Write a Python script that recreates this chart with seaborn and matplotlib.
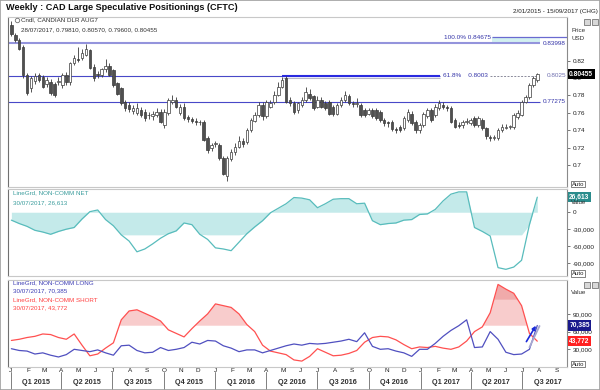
import numpy as np
import pandas as pd
import matplotlib
matplotlib.use("Agg")
import matplotlib.pyplot as plt
import matplotlib.dates as mdates
import matplotlib.transforms as mtransforms
from matplotlib.patches import Rectangle
import seaborn as sns

# ---- data ----
candle_dates = pd.date_range("2015-01-02", "2017-07-28", freq="7D")   # weekly candles
opens = [0.861, 0.850, 0.844, 0.836, 0.804, 0.788, 0.797, 0.803, 0.801, 0.793,
         0.796, 0.793, 0.795, 0.792, 0.804, 0.795, 0.817, 0.822, 0.823, 0.827,
         0.832, 0.813, 0.805, 0.803, 0.810, 0.814, 0.809, 0.794, 0.788, 0.773,
         0.769, 0.762, 0.760, 0.763, 0.761, 0.757, 0.756, 0.758, 0.761, 0.746,
         0.760, 0.773, 0.775, 0.760, 0.767, 0.755, 0.753, 0.751, 0.750, 0.750,
         0.731, 0.719, 0.724, 0.723, 0.708, 0.687, 0.707, 0.715, 0.721, 0.727,
         0.726, 0.740, 0.751, 0.757, 0.769, 0.756, 0.767, 0.773, 0.781, 0.790,
         0.800, 0.775, 0.771, 0.763, 0.769, 0.775, 0.782, 0.779, 0.767, 0.775,
         0.771, 0.772, 0.767, 0.759, 0.769, 0.775, 0.779, 0.771, 0.770, 0.769,
         0.763, 0.759, 0.763, 0.763, 0.761, 0.752, 0.749, 0.750, 0.741, 0.744,
         0.742, 0.752, 0.759, 0.750, 0.740, 0.746, 0.756, 0.763, 0.757, 0.765,
         0.769, 0.767, 0.766, 0.752, 0.746, 0.746, 0.750, 0.748, 0.754, 0.746,
         0.752, 0.742, 0.732, 0.731, 0.731, 0.740, 0.743, 0.744, 0.744, 0.755,
         0.758, 0.773, 0.778, 0.792, 0.79810]
highs = [0.866, 0.852, 0.846, 0.838, 0.806, 0.802, 0.806, 0.806, 0.804, 0.801,
         0.799, 0.795, 0.801, 0.806, 0.807, 0.819, 0.826, 0.836, 0.834, 0.839,
         0.834, 0.816, 0.808, 0.812, 0.822, 0.817, 0.811, 0.796, 0.790, 0.775,
         0.773, 0.769, 0.771, 0.767, 0.764, 0.761, 0.762, 0.766, 0.764, 0.764,
         0.777, 0.781, 0.778, 0.770, 0.771, 0.757, 0.755, 0.754, 0.752, 0.752,
         0.733, 0.725, 0.727, 0.725, 0.710, 0.710, 0.718, 0.725, 0.733, 0.731,
         0.742, 0.754, 0.761, 0.773, 0.773, 0.775, 0.775, 0.785, 0.795, 0.801,
         0.802, 0.778, 0.774, 0.773, 0.778, 0.790, 0.787, 0.781, 0.779, 0.778,
         0.774, 0.775, 0.769, 0.771, 0.778, 0.785, 0.782, 0.774, 0.777, 0.771,
         0.766, 0.766, 0.765, 0.765, 0.763, 0.754, 0.751, 0.752, 0.744, 0.746,
         0.756, 0.764, 0.762, 0.752, 0.748, 0.761, 0.766, 0.765, 0.770, 0.775,
         0.772, 0.769, 0.768, 0.754, 0.749, 0.752, 0.754, 0.754, 0.756, 0.756,
         0.754, 0.744, 0.734, 0.735, 0.742, 0.747, 0.747, 0.746, 0.760, 0.763,
         0.775, 0.780, 0.794, 0.802, 0.80570]
lows = [0.848, 0.842, 0.832, 0.800, 0.781, 0.784, 0.793, 0.795, 0.788, 0.790,
        0.781, 0.778, 0.792, 0.789, 0.792, 0.792, 0.815, 0.818, 0.821, 0.825,
        0.810, 0.797, 0.800, 0.801, 0.807, 0.802, 0.790, 0.780, 0.769, 0.762,
        0.761, 0.759, 0.758, 0.755, 0.751, 0.753, 0.752, 0.755, 0.748, 0.743,
        0.757, 0.770, 0.765, 0.758, 0.752, 0.750, 0.748, 0.746, 0.746, 0.727,
        0.714, 0.716, 0.721, 0.706, 0.688, 0.682, 0.705, 0.712, 0.719, 0.721,
        0.724, 0.738, 0.749, 0.755, 0.752, 0.754, 0.765, 0.770, 0.779, 0.788,
        0.771, 0.768, 0.759, 0.760, 0.767, 0.773, 0.775, 0.763, 0.765, 0.765,
        0.763, 0.757, 0.756, 0.757, 0.767, 0.773, 0.769, 0.767, 0.767, 0.755,
        0.755, 0.757, 0.754, 0.752, 0.750, 0.745, 0.744, 0.739, 0.737, 0.738,
        0.740, 0.750, 0.746, 0.737, 0.737, 0.744, 0.754, 0.750, 0.755, 0.763,
        0.764, 0.762, 0.748, 0.742, 0.742, 0.743, 0.747, 0.746, 0.744, 0.744,
        0.740, 0.730, 0.727, 0.729, 0.729, 0.738, 0.741, 0.741, 0.741, 0.753,
        0.756, 0.771, 0.776, 0.790, 0.79600]
closes = [0.851, 0.844, 0.834, 0.804, 0.783, 0.800, 0.802, 0.798, 0.790, 0.798,
          0.783, 0.781, 0.797, 0.804, 0.795, 0.817, 0.823, 0.821, 0.829, 0.834,
          0.812, 0.800, 0.803, 0.810, 0.814, 0.804, 0.792, 0.782, 0.771, 0.765,
          0.764, 0.765, 0.766, 0.758, 0.754, 0.757, 0.759, 0.761, 0.750, 0.761,
          0.775, 0.775, 0.767, 0.767, 0.754, 0.753, 0.751, 0.750, 0.749, 0.729,
          0.717, 0.723, 0.725, 0.708, 0.690, 0.708, 0.715, 0.721, 0.727, 0.724,
          0.740, 0.752, 0.757, 0.769, 0.756, 0.773, 0.771, 0.781, 0.790, 0.798,
          0.773, 0.771, 0.761, 0.771, 0.775, 0.784, 0.777, 0.765, 0.775, 0.767,
          0.765, 0.759, 0.759, 0.769, 0.775, 0.781, 0.771, 0.770, 0.771, 0.758,
          0.758, 0.763, 0.756, 0.754, 0.752, 0.748, 0.748, 0.741, 0.740, 0.740,
          0.754, 0.761, 0.748, 0.740, 0.746, 0.759, 0.763, 0.752, 0.767, 0.771,
          0.767, 0.765, 0.750, 0.744, 0.745, 0.750, 0.751, 0.752, 0.746, 0.754,
          0.742, 0.733, 0.731, 0.732, 0.740, 0.744, 0.744, 0.744, 0.757, 0.760,
          0.773, 0.778, 0.792, 0.800, 0.80455]

# CFTC positions, thousands of contracts, fortnightly readings
cot_dates = pd.date_range("2015-01-02", "2017-07-28", freq="14D")
noncomm_net = [-14, -20, -25, -32, -35, -39, -34, -30, -27, -12,
               1, 4, -13, -24, -40, -51, -70, -65, -56, -46,
               -38, -33, -19, -22, -39, -48, -63, -65, -68, -53,
               -38, -26, -15, -1, 7, 15, 26, 25, 22, 8,
               15, 23, 24, 24, 15, 16, -15, -22, -20, -19,
               -14, -13, -4, -3, 5, 20, 32, 36, 36, -27,
               -34, -42, -98, -101, -97, -85, -22, 26.613]
noncomm_long = [31, 28, 27, 22, 24, 20, 17, 21, 30, 28,
                26, 29, 24, 20, 36, 37, 28, 24, 25, 33,
                28, 30, 33, 42, 39, 45, 44, 36, 32, 26,
                29, 29, 24, 28, 32, 36, 39, 37, 40, 39,
                40, 42, 44, 47, 43, 58, 35, 30, 31, 27,
                24, 18, 30, 30, 40, 52, 62, 70, 80, 33,
                34, 60, 47, 25, 21, 22, 30, 70.385]
noncomm_short = [45, 47, 50, 52, 56, 55, 50, 47, 56, 37,
                 19, 22, 32, 41, 80, 95, 97, 91, 85, 78,
                 63, 57, 51, 65, 78, 90, 107, 104, 101, 90,
                 72, 60, 37, 27, 24, 21, 12, 10, 18, 31,
                 25, 19, 20, 23, 28, 42, 50, 52, 51, 46,
                 38, 31, 34, 33, 35, 32, 30, 34, 44, 60,
                 68, 92, 140, 132, 125, 104, 57, 43.772]

price_ticks = [0.70, 0.72, 0.74, 0.76, 0.78, 0.80, 0.82]
net_ticks = [0, -30, -60, -90]
pos_ticks = [30, 60, 90]
quarter_labels = ["Q1 2015", "Q2 2015", "Q3 2015", "Q4 2015", "Q1 2016", "Q2 2016",
                  "Q3 2016", "Q4 2016", "Q1 2017", "Q2 2017", "Q3 2017"]

# retracement levels drawn on the price panel
fib_100 = 0.84675
fib_top = 0.83998
fib_618 = 0.8003
last_level = 0.8025
support = 0.77275

# ---- figure ----
sns.set_theme(style="white")
plt.rcParams['font.family'] = ['Liberation Sans', 'DejaVu Sans']

W, H = 600, 390
fig = plt.figure(figsize=(6, 3.9), dpi=100)
L, R = 8, 567


def fx(x):
    return x / W


def fy(y):
    return 1 - y / H


def add_panel(top, bottom):
    return fig.add_axes([fx(L), fy(bottom), (R - L) / W, (bottom - top) / H])


ax1 = add_panel(17, 187)
ax2 = add_panel(189, 276)
ax3 = add_panel(280, 367)

d = lambda s: mdates.date2num(pd.Timestamp(s))
x_lo, x_hi = d("2014-12-27"), d("2017-09-19")

# candles
xc = mdates.date2num(candle_dates)
o, h, l, c = map(np.array, (opens, highs, lows, closes))
up = c >= o
body_lo = np.minimum(o, c)
body_h = np.maximum(np.abs(c - o), 0.0004)
ax1.vlines(xc, l, h, color='#3a3a3a', lw=0.6, zorder=3)
ax1.bar(xc[up], body_h[up], bottom=body_lo[up], width=4.5, color='white',
        edgecolor='#3a3a3a', linewidth=0.5, zorder=4)
ax1.bar(xc[~up], body_h[~up], bottom=body_lo[~up], width=4.5, color='#505050',
        edgecolor='#3a3a3a', linewidth=0.5, zorder=4)

# level lines
lc = '#4848c8'
ax1.fill_between([d("2017-05-09"), d("2017-08-02")], fib_top, fib_100, color='#d2f0f0', lw=0, zorder=1)
ax1.hlines(fib_100, d("2017-05-09"), x_hi, color='#6a6ad0', lw=0.9, zorder=2)
ax1.hlines(fib_top, x_lo, d("2017-08-02"), color='#9494dc', lw=1.5, zorder=2)
ax1.hlines(last_level, x_lo, d("2017-02-05"), color=lc, lw=0.8, zorder=2)
ax1.hlines(last_level + 0.0003, d("2016-04-29"), d("2017-02-05"), color='#2a2ae0', lw=1.5, zorder=2)
ax1.hlines(fib_618, d("2016-05-01"), d("2017-02-05"), color='#b8b8c8', lw=0.8, zorder=2)
ax1.hlines(last_level, d("2017-05-05"), d("2017-07-30"), color='#8a8a9a', lw=0.7, ls=(0, (2, 1.5)), zorder=2)
ax1.hlines(support, x_lo, d("2017-08-02"), color=lc, lw=0.8, zorder=2)

tfs = 4.6
tc = '#3434a8'
ax1.text(d("2017-05-07"), fib_100, "100.0% 0.84675", ha='right', va='center', fontsize=tfs, color=tc)
ax1.text(d("2017-08-07"), fib_top, "0.83998", ha='left', va='center', fontsize=tfs, color=tc)
ax1.text(d("2017-02-10"), last_level, "61.8%    0.8003", ha='left', va='center', fontsize=tfs, color=tc)
ax1.text(d("2017-08-14"), last_level, "0.8025", ha='left', va='center', fontsize=tfs, color='#7070b0')
ax1.text(d("2017-08-07"), support, "0.77275", ha='left', va='center', fontsize=tfs, color=tc)
ax1.set_ylim(0.6746, 0.8703)

# net positions
xl = mdates.date2num(cot_dates)
net = np.array(noncomm_net)
ax2.fill_between(xl, np.maximum(net, -40), 0, color='#c4eaea', lw=0, zorder=1)
sns.lineplot(x=xl, y=net, ax=ax2, color='#58bcbc', lw=0.9, zorder=3)
ax2.set_ylim(-112.8, 41.1)

# long / short
lng = np.array(noncomm_long)
sht = np.array(noncomm_short)
ax3.fill_between(xl, sht, 70, where=sht > 70, interpolate=True, color='#f8cccc', lw=0, zorder=1)
ax3.fill_between(xl, sht, 115, where=sht > 115, interpolate=True, color='#f0aaaa', lw=0, zorder=1)
sns.lineplot(x=xl, y=sht, ax=ax3, color='#ff5050', lw=0.9, zorder=3)
sns.lineplot(x=xl, y=lng, ax=ax3, color='#5050c0', lw=0.9, zorder=4)
ax3.plot([d("2017-07-14"), d("2017-08-01")], [33.4, 69.5], color='#a8a8d0', lw=1.3, zorder=5)
ax3.annotate("", xy=(d("2017-07-28"), 74), xytext=(d("2017-07-06"), 39),
             arrowprops=dict(arrowstyle='-|>', color='#1a2ad8', lw=1.2, mutation_scale=5), zorder=6)
ax3.set_ylim(0, 147.5)

# axes styling
for ax in (ax1, ax2, ax3):
    ax.set_xlim(x_lo, x_hi)
    ax.set_xlabel("")
    ax.set_ylabel("")
    ax.grid(False)
    ax.yaxis.tick_right()
    ax.tick_params(axis='y', direction='out', length=2.5, width=0.6, color='#606060',
                   pad=1.5, labelsize=4.6, labelcolor='#202020')
    ax.spines['left'].set_color('#707070')
    ax.spines['right'].set_color('#8a8a8a')
    ax.spines['top'].set_color('#c8c8c8')
    ax.spines['bottom'].set_color('#c8c8c8')
    for s in ax.spines.values():
        s.set_linewidth(0.8)

ax1.set_yticks(price_ticks)
ax1.set_yticklabels([f"{v:g}" for v in price_ticks])
ax2.set_yticks(net_ticks)
ax2.set_yticklabels([f"{v * 1000:,.0f}" for v in net_ticks])
ax3.set_yticks(pos_ticks)
ax3.set_yticklabels([f"{v * 1000:,.0f}" for v in pos_ticks])
ax1.set_xticks([])
ax2.set_xticks([])

months = pd.date_range("2015-01-01", "2017-09-01", freq="MS")
ax3.set_xticks(mdates.date2num(months))
ax3.set_xticklabels([m.strftime("%b")[0] for m in months])
ax3.tick_params(axis='x', length=0, pad=1, labelsize=4.6, labelcolor='#202020')

# quarter row
qstarts = pd.date_range("2015-01-01", "2017-07-01", freq="QS")
bt = mtransforms.blended_transform_factory(ax3.transData, fig.transFigure)
for qs, lab in zip(qstarts, quarter_labels):
    mid = qs + pd.Timedelta(days=45)
    ax3.text(mdates.date2num(mid), fy(383), lab, transform=bt, ha='center', va='center',
             fontsize=5.2, fontweight='bold', color='#303030', clip_on=False)
    ax3.plot([d(qs)] * 2, [fy(372), fy(390)], transform=bt, color='#808080', lw=0.7, clip_on=False)

# right side value boxes
def value_box(ax, y, text, fc):
    tr = mtransforms.blended_transform_factory(ax.transAxes, ax.transData)
    ax.text(1.004, y, text, transform=tr, ha='left', va='center', fontsize=4.8, color='white',
            fontweight='bold', zorder=10, clip_on=False,
            bbox=dict(boxstyle='square,pad=0.25', fc=fc, ec='none'))


value_box(ax1, closes[-1], "0.80455", 'black')
value_box(ax2, noncomm_net[-1], "26,613", '#2a8c8c')
value_box(ax3, noncomm_long[-1], "70,385", '#1a1a8c')
value_box(ax3, noncomm_short[-1], "43,772", '#ff2020')

# header texts
fig.text(fx(6), fy(8), "Weekly : CAD Large Speculative Positionings (CFTC)", fontsize=6.6,
         fontweight='bold', color='#101010', va='center', ha='left')
fig.text(fx(598), fy(11), "2/01/2015 - 15/09/2017 (CHG)", fontsize=4.5, color='#202020',
         va='center', ha='right')

st = dict(fontsize=4.5, va='center', ha='left')
fig.text(fx(21), fy(20), "Cndl, CANDIAN DLR AUG7", color='#303030', **st)
fig.text(fx(21), fy(30), "28/07/2017, 0.79810, 0.80570, 0.79600, 0.80455", color='#303030', **st)
fig.lines.append(plt.Line2D([fx(16.5)], [fy(20)], marker='o', ms=3.2, mfc='white', mec='#707070',
                            mew=0.6, transform=fig.transFigure))
fig.text(fx(13), fy(193), "LineGrd, NON-COMM NET", color='#3a9c9c', **st)
fig.text(fx(13), fy(202.5), "30/07/2017, 26,613", color='#3a9c9c', **st)
fig.text(fx(13), fy(282.5), "LineGrd, NON-COMM LONG", color='#3c3cb4', **st)
fig.text(fx(13), fy(291), "30/07/2017, 70,385", color='#3c3cb4', **st)
fig.text(fx(13), fy(299.5), "LineGrd, NON-COMM SHORT", color='#ff4040', **st)
fig.text(fx(13), fy(308), "30/07/2017, 43,772", color='#ff4040', **st)

fig.text(fx(571), fy(30), "Price", color='#303030', **st)
fig.text(fx(571), fy(39), "USD", color='#303030', **st)
fig.text(fx(571), fy(202), "Value", color='#303030', **st)
fig.text(fx(571), fy(292), "Value", color='#303030', **st)

# Auto buttons and window icons
for yb in (184, 273.5, 364):
    fig.text(fx(572), fy(yb), "Auto", fontsize=4.3, color='#202020', va='center', ha='left',
             bbox=dict(boxstyle='square,pad=0.15', fc='white', ec='#505050', lw=0.5))
for yt in (19, 282):
    for xb in (584, 592):
        fig.patches.append(Rectangle((fx(xb), fy(yt + 6)), 6 / W, 6 / H, transform=fig.transFigure,
                                     fc='#d8d8d8', ec='#606060', lw=0.5))

fig.patches.append(Rectangle((0, 0), 1, 1, transform=fig.transFigure, fill=False,
                             ec='#a0a0a0', lw=1.2))

fig.savefig("out.png", dpi=100)
